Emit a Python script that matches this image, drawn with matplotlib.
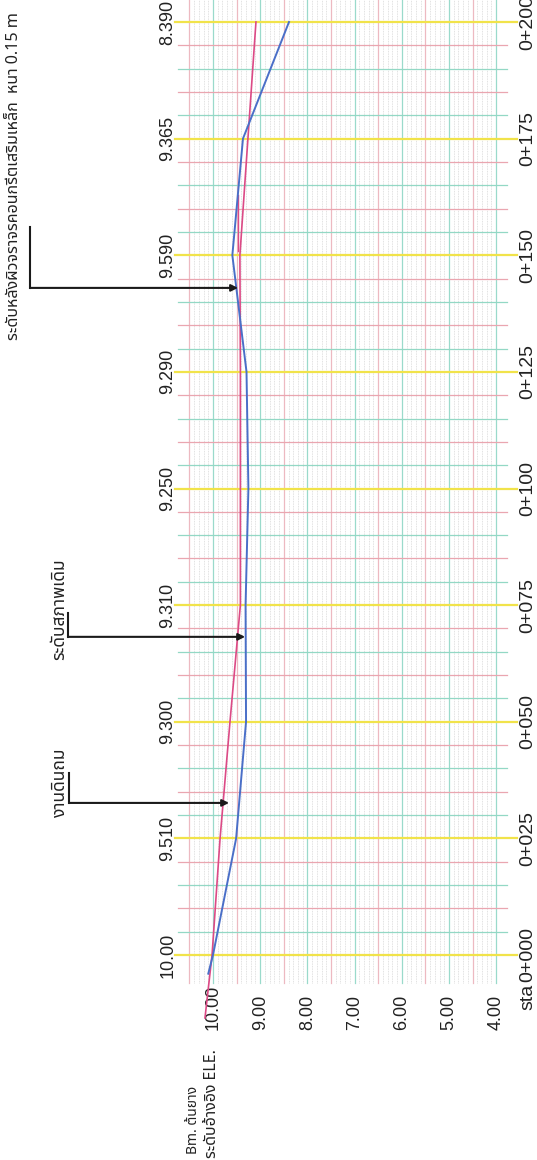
import matplotlib
matplotlib.use("Agg")
import matplotlib.pyplot as plt
from matplotlib import font_manager, ft2font
import numpy as np

# ---------------- data ----------------
stations = [0, 25, 50, 75, 100, 125, 150, 175, 200]
station_labels = ["0+000", "0+025", "0+050", "0+075", "0+100",
                  "0+125", "0+150", "0+175", "0+200"]
surface_elev = [10.00, 9.510, 9.300, 9.310, 9.250, 9.290, 9.590, 9.365, 8.390]
surface_labels = ["10.00", "9.510", "9.300", "9.310", "9.250",
                  "9.290", "9.590", "9.365", "8.390"]
blue_sta = [-4] + stations
blue_elev = [10.10] + surface_elev
pink_sta = [-13.5, 0, 25, 50, 75, 100, 125, 150, 200]
pink_elev = [10.17, 10.02, 9.85, 9.64, 9.42, 9.42, 9.42, 9.43, 9.09]
pink_tick_sta = [151, 163]
pink_tick_elev = [9.46, 9.46]
elev_ticks = [10, 9, 8, 7, 6, 5, 4]
elev_tick_labels = ["10.00", "9.00", "8.00", "7.00", "6.00", "5.00", "4.00"]
callout_texts = ["ระดับหลังผิวจราจรคอนกรีตเสริมเหล็ก  หนา 0.15 m",
                 "ระดับสภาพเดิม", "งานดินถม"]
callout_sta = [143.0, 68.2, 32.6]
callout_tip_elev = [9.47, 9.32, 9.66]

# ---------------- fonts ----------------
thai_font = None
cands = []
for f in font_manager.fontManager.ttflist:
    try:
        cm = ft2font.FT2Font(f.fname).get_charmap()
    except Exception:
        continue
    if 0x0E01 in cm and 0x0E14 in cm and 0x0E31 in cm:
        cands.append(f.name)
for pref in ["Noto Sans Thai", "Noto Sans Thai UI", "Loma", "Garuda", "Norasi", "Tlwg Typo"]:
    if pref in cands:
        thai_font = pref
        break
if thai_font is None and cands:
    sans = [c for c in cands if "Sans" in c]
    thai_font = (sans or cands)[0]
main_fam = ["Liberation Sans", "DejaVu Sans"]
thai_fam = ([thai_font] if thai_font else []) + main_fam

# ---------------- layout ----------------
W, H = 537, 1160
PX_E = 47.2       # px per metre elevation
X10 = 213.0       # px of elevation 10.00
PX_S = 4.665      # px per metre chainage
Y0 = 955.0        # px of station 0+000


def E(px):
    return 10.0 - (px - X10) / PX_E


def S(py):
    return (Y0 - py) / PX_S


fig = plt.figure(figsize=(W / 100, H / 100), dpi=100)
fig.patch.set_facecolor("white")
ax = fig.add_axes([0, 0, 1, 1])
ax.set_xlim(E(0), E(W))
ax.set_ylim(S(H), S(0))
ax.axis("off")

# ---------------- grid ----------------
s_bot, s_top = S(983), S(-2)
for k in range(40, 106):
    e = k / 10.0
    if k % 10 == 0:
        ax.plot([e, e], [s_bot, s_top], color="#9adacb", lw=0.9, zorder=1)
    elif k % 5 == 0:
        ax.plot([e, e], [s_bot, s_top], color="#edb9c1", lw=0.9, zorder=1)
    else:
        ax.plot([e, e], [s_bot, s_top], color="#cfcfcf", lw=0.5,
                ls=(0, (1.2, 1.2)), zorder=1)

for s in range(0, 201, 5):
    r = s % 25
    if r == 0:
        ax.plot([E(175), E(517)], [s, s], color="#f1e34a", lw=1.6, zorder=2)
    elif r in (5, 15):
        ax.plot([E(178), E(507)], [s, s], color="#93d8c5", lw=0.9, zorder=2)
    else:
        ax.plot([E(178), E(507)], [s, s], color="#eaa6b0", lw=0.9, zorder=2)

# ---------------- profile lines ----------------
ax.plot(pink_elev, pink_sta, color="#dc4a86", lw=1.2, zorder=4)
ax.plot(pink_tick_elev, pink_tick_sta, color="#dc4a86", lw=1.0, zorder=4)
ax.plot(blue_elev, blue_sta, color="#4a6fc8", lw=1.4, zorder=5)

# ---------------- labels ----------------
for s, lab in zip(stations, surface_labels):
    ax.text(E(168), s, lab, rotation=90, ha="center", va="center",
            rotation_mode="anchor", fontsize=13, family=main_fam, color="#222")

for s, lab in zip(stations, station_labels):
    ax.text(E(528), s, lab, rotation=90, ha="center", va="center",
            rotation_mode="anchor", fontsize=14, family=main_fam, color="#222")
ax.text(E(528), S(984), "sta", rotation=90, ha="right", va="center",
        rotation_mode="anchor", fontsize=14, family=main_fam, color="#222")

for e, lab in zip(elev_ticks, elev_tick_labels):
    ax.text(e, S(1030), lab, rotation=90, ha="left", va="center",
            rotation_mode="anchor", fontsize=13, family=main_fam, color="#222")

ax.text(E(212), S(1158), "ระดับอ้างอิง ELE.", rotation=90, ha="left",
        va="center", rotation_mode="anchor", fontsize=11.5, family=thai_fam,
        color="#222")
ax.text(E(194), S(1154), "Bm. ต้นยาง", rotation=90, ha="left", va="center",
        rotation_mode="anchor", fontsize=10, family=thai_fam, color="#222")

# ---------------- callouts ----------------
text_x = [E(14), E(59), E(60)]
text_start = [S(340), S(660), S(817)]
text_size = [11.6, 12.5, 12.5]
bracket_x = [E(30), E(68), E(69)]
bracket_top = [S(227), S(613), S(773)]
for i in range(3):
    ax.text(text_x[i], text_start[i], callout_texts[i], rotation=90,
            ha="left", va="center", rotation_mode="anchor",
            fontsize=text_size[i], family=thai_fam, color="#222")
    ax.plot([bracket_x[i], bracket_x[i]], [callout_sta[i], bracket_top[i]],
            color="#1a1a1a", lw=1.5, zorder=6)
    ax.annotate("", xy=(callout_tip_elev[i], callout_sta[i]),
                xytext=(bracket_x[i], callout_sta[i]),
                arrowprops=dict(arrowstyle="-|>", color="#1a1a1a", lw=1.5,
                                mutation_scale=10, shrinkA=0, shrinkB=0),
                zorder=6)

fig.savefig("out.png", dpi=100, facecolor="white")
